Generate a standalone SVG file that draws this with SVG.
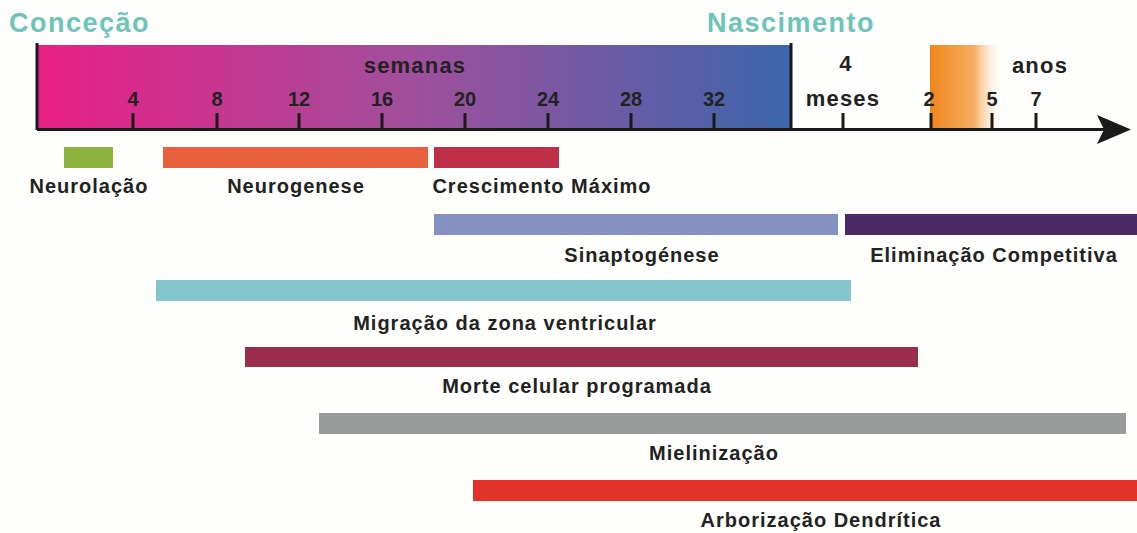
<svg xmlns="http://www.w3.org/2000/svg" width="1137" height="533" viewBox="0 0 1137 533">
<defs>
<linearGradient id="gw" x1="0" y1="0" x2="1" y2="0">
<stop offset="0" stop-color="#ea1f85"/>
<stop offset="0.5" stop-color="#a04f9c"/>
<stop offset="1" stop-color="#3c66ad"/>
</linearGradient>
<linearGradient id="go" x1="0" y1="0" x2="1" y2="0">
<stop offset="0" stop-color="#f0861c"/>
<stop offset="0.6" stop-color="#f6ae62"/>
<stop offset="1" stop-color="#ffffff" stop-opacity="0"/>
</linearGradient>
<style>
.t{font-family:"Liberation Sans",Arial,sans-serif;font-weight:bold;fill:#222;}
.lab{font-size:20px;letter-spacing:1px;text-anchor:middle;}
.num{font-size:20px;text-anchor:middle;}
.big{font-size:22px;letter-spacing:1.2px;text-anchor:middle;}
.hd{font-family:"Liberation Sans",Arial,sans-serif;font-weight:bold;font-size:27px;letter-spacing:1.5px;fill:#6dc4b9;}
.ax{stroke:#1a1a1a;stroke-width:3;fill:none;}
</style>
</defs>
<rect width="1137" height="533" fill="#fefefc"/>
<g id="timeline">
<rect x="37" y="45" width="754" height="85" fill="url(#gw)"/>
<rect x="930" y="45" width="74" height="84" fill="url(#go)"/>
<text class="hd" x="9" y="32">Conceção</text>
<text class="hd" x="707" y="32">Nascimento</text>
<text class="t big" x="415" y="73">semanas</text>
<text class="t big" x="846" y="71">4</text>
<text class="t big" x="843" y="106">meses</text>
<text class="t big" x="1040" y="73">anos</text>
<g class="t num">
<text x="133" y="106">4</text>
<text x="217" y="106">8</text>
<text x="299" y="106">12</text>
<text x="382" y="106">16</text>
<text x="465" y="106">20</text>
<text x="548" y="106">24</text>
<text x="631" y="106">28</text>
<text x="714" y="106">32</text>
<text x="929" y="106">2</text>
<text x="992" y="106">5</text>
<text x="1036" y="106">7</text>
</g>
</g>
<g id="connectors">
<path class="ax" d="M37,43 V130 M791,43 V130 M37,129.5 H1105"/>
<path class="ax" d="M133,113 V129 M217,113 V129 M299,113 V129 M382,113 V129 M465,113 V129 M548,113 V129 M631,113 V129 M714,113 V129 M843,113 V129 M931,113 V129 M992,113 V129 M1036,113 V129"/>
<path d="M1131,129.5 L1097,115 L1104,129.5 L1097,144 Z" fill="#1a1a1a"/>
</g>
<g id="neurolacao"><rect x="64" y="147" width="49" height="21" fill="#8db43e"/><text class="t lab" x="89" y="193">Neurolação</text></g>
<g id="neurogenese"><rect x="163" y="147" width="265" height="21" fill="#e8603c"/><text class="t lab" x="296" y="193">Neurogenese</text></g>
<g id="crescimento"><rect x="434" y="147" width="125" height="21" fill="#bf2f47"/><text class="t lab" x="542" y="193">Crescimento Máximo</text></g>
<g id="sinaptogenese"><rect x="434" y="214" width="404" height="21" fill="#8591c1"/><text class="t lab" x="642" y="262">Sinaptogénese</text></g>
<g id="eliminacao"><rect x="845" y="214" width="292" height="21" fill="#4b2964"/><text class="t lab" x="994" y="262">Eliminação Competitiva</text></g>
<g id="migracao"><rect x="156" y="280" width="695" height="21" fill="#83c7cd"/><text class="t lab" x="505" y="330">Migração da zona ventricular</text></g>
<g id="morte"><rect x="245" y="347" width="673" height="20" fill="#9a2d4e"/><text class="t lab" x="577" y="393">Morte celular programada</text></g>
<g id="mielinizacao"><rect x="319" y="413" width="807" height="21" fill="#999b9a"/><text class="t lab" x="714" y="460">Mielinização</text></g>
<g id="arborizacao"><rect x="473" y="480" width="664" height="21" fill="#e2322a"/><text class="t lab" x="821" y="527">Arborização Dendrítica</text></g>
</svg>
